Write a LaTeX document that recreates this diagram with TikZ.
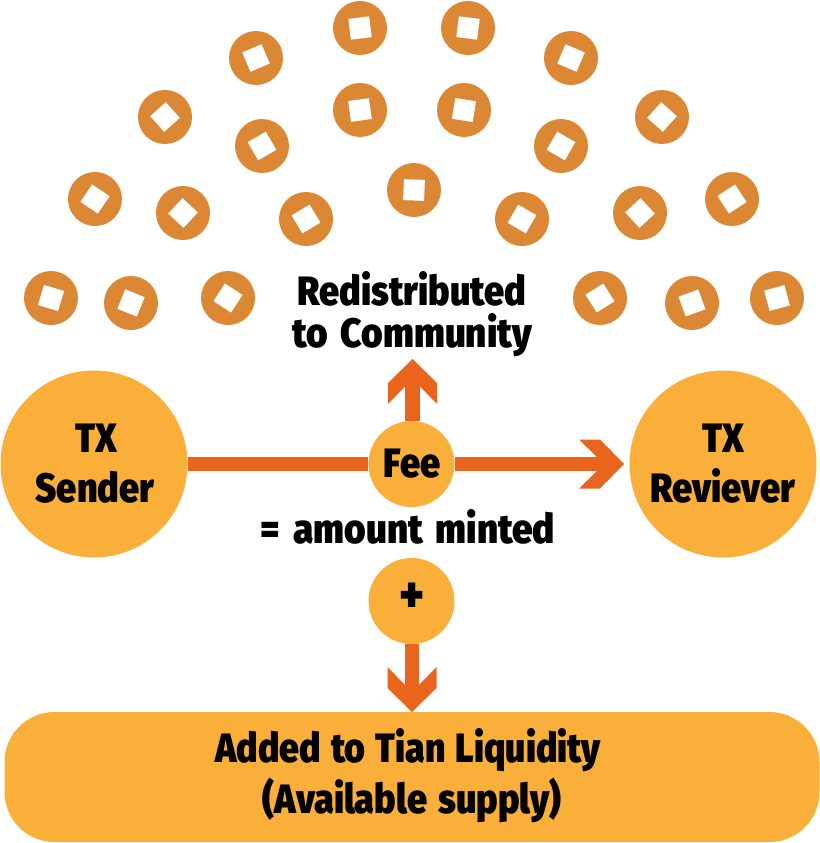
\documentclass[tikz,border=0pt]{standalone}
\usepackage{fontspec}
\newfontfamily\lab[FakeStretch=0.88,WordSpace=1.4]{Fira Sans Black}
\newfontfamily\labwide[FakeStretch=0.9,WordSpace=1.6]{Fira Sans Black}
\newfontfamily\labtight[FakeStretch=0.87,WordSpace=1.3]{Fira Sans Black}
\definecolor{coinc}{HTML}{DC8734}
\definecolor{disc}{HTML}{FBAF3B}
\definecolor{arr}{HTML}{E9651D}
\tikzset{
  coin/.style={circle,fill=coinc,inner sep=0pt,minimum size=54pt},
  hole/.style={rectangle,fill=white,inner sep=0pt,minimum size=21pt},
  bigdisc/.style={circle,fill=disc,inner sep=0pt,minimum size=187pt},
  smalldisc/.style={circle,fill=disc,inner sep=0pt,minimum size=86pt},
  lbl/.style={anchor=base,inner sep=0pt,font=\lab\fontsize{41}{41}\selectfont,text=black},
  shaft/.style={draw=arr,line width=14.5pt},
  chevron/.pic={\fill[arr] (0,0)--(-24,24.5)--(-45,24.5)--(-27,7)--(-27,-7)--(-45,-24.5)--(-24,-24.5)--cycle;}
}
\begin{document}
\begin{tikzpicture}[x=1pt,y=-1pt]
\useasboundingbox[fill=white] (0,0) rectangle (819,843);
% coins: x / y / clockwise tilt of the hole
\foreach \x/\y/\a [count=\i] in {
  360/28/-7, 256/58/-23, 165/117/-42, 360/110/-8, 262/146/-30, 95/199/34,
  183/213/43, 306/219/-31, 51/298/17, 131/303/22, 228/298/33,
  468/28/7, 571/58/23, 662/117/42, 464/110/9, 561/146/30, 732/199/-33,
  640/213/-43, 522/219/30, 777/298/-15, 692/303/-20, 600/298/-32, 414/190/2}{
  \node[coin] (c\i) at (\x,\y) {};
  \node[hole,rotate=-\a] (h\i) at (\x,\y) {};
}
% main shapes
\node[bigdisc] (sender) at (94,464) {};
\node[bigdisc] (receiver) at (723,464) {};
\node[smalldisc] (fee) at (411.5,464) {};
\node[smalldisc] (plus) at (411.5,601) {};
\node[fill=disc,rounded corners=50pt,minimum width=815pt,minimum height=130pt,inner sep=0pt] (pool) at (412,777) {};
% free ends
\coordinate (tipR) at (624,464);
\coordinate (tipU) at (412.5,359);
\coordinate (tipD) at (412,712);
% connectors
\draw[shaft] (sender) -- (fee);
\draw[shaft] (fee) -- ([xshift=-20pt]tipR);
\draw[shaft] (fee.north -| tipU) -- ([yshift=-20pt]tipU);
\draw[shaft] (plus.south -| tipD) -- ([yshift=20pt]tipD);
\pic at (tipR) {chevron};
\pic[rotate=90] at (tipU) {chevron};
\pic[rotate=-90] at (tipD) {chevron};
% labels
\node[lbl] (t1) at (412,305) {Redistributed};
\node[lbl,font=\labwide\fontsize{41}{41}\selectfont] (t2) at (412,347) {to Community};
\node[lbl] (t3) at (96,452) {TX};
\node[lbl] (t4) at (95,502) {Sender};
\node[lbl] (t5) at (723,452) {TX};
\node[lbl] (t6) at (723,502) {Reviever};
\node[lbl] (t7) at (412,477) {Fee};
\node[lbl,font=\labwide\fontsize{41}{41}\selectfont] (t8) at (408,543) {= amount minted};
\node[lbl,font=\lab\fontsize{52}{52}\selectfont] (t9) at (412,612) {+};
\node[lbl,font=\labtight\fontsize{41}{41}\selectfont] (t10) at (408,762) {Added to Tian Liquidity};
\node[lbl] (t11) at (412,813) {(Available supply)};
\end{tikzpicture}
\end{document}
